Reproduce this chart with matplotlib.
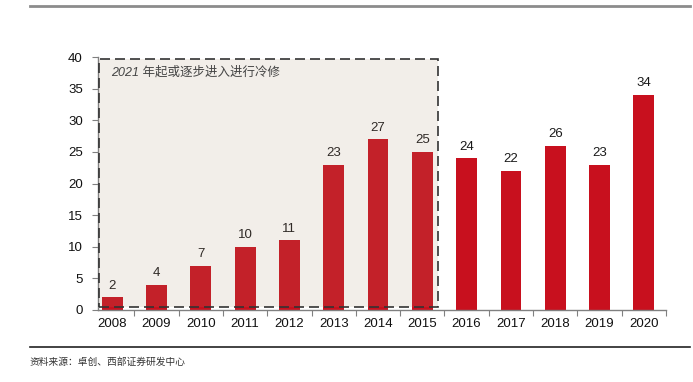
import matplotlib
matplotlib.use("Agg")
import matplotlib.pyplot as plt
from matplotlib.patches import Rectangle
from matplotlib.lines import Line2D

years = ["2008", "2009", "2010", "2011", "2012", "2013", "2014",
         "2015", "2016", "2017", "2018", "2019", "2020"]
values = [2, 4, 7, 10, 11, 23, 27, 25, 24, 22, 26, 23, 34]
yticks = [0, 5, 10, 15, 20, 25, 30, 35, 40]
note = "2021 年起或逐步进入进行冷修"
source = "资料来源：卓创、西部证券研发中心"

plt.rcParams['font.family'] = ['Liberation Sans', 'Noto Sans CJK SC', 'DejaVu Sans']

fig = plt.figure(figsize=(6.93, 3.82), dpi=100)
ax = fig.add_axes([98/693, 1-310/382, (666-98)/693, (310-57)/382])

x = list(range(len(years)))
ax.bar(x, values, width=0.47, color="#C8101E", zorder=2)
for xi, v in zip(x, values):
    ax.annotate(str(v), (xi, v), xytext=(0, 4), textcoords="offset points",
                ha="center", va="bottom", fontsize=9.5, color="#1a1a1a")

ax.set_xlim(-0.32, 12.5)
ax.set_ylim(0, 40)
ax.set_yticks(yticks)
ax.set_yticklabels([str(t) for t in yticks], fontsize=9.5, color="#111111")
ax.set_xticks([i + 0.5 for i in range(len(years))])
ax.set_xticklabels([])
ax.set_xticks(x, minor=True)
ax.set_xticklabels(years, minor=True, fontsize=9.5, color="#111111")
ax.tick_params(axis="x", which="minor", length=0, pad=6)
ax.tick_params(axis="x", which="major", length=4, direction="out", color="#808080")
ax.tick_params(axis="y", length=4, direction="out", color="#808080", pad=7)
for s in ["top", "right"]:
    ax.spines[s].set_visible(False)
for s in ["left", "bottom"]:
    ax.spines[s].set_color("#808080")
    ax.spines[s].set_linewidth(1.0)

# dashed highlight box
box = Rectangle((-0.3, 0.5), 7.65, 39.2, facecolor=(172/255, 138/255, 110/255, 0.145),
                edgecolor="#333333", linestyle=(0, (6, 3)), linewidth=1.2, zorder=3,
                clip_on=False)
ax.add_patch(box)
ax.text(-0.02, 37.6, note, fontsize=9, style="italic", color="#444444",
        ha="left", va="center", zorder=4)

# figure decorations
fig.add_artist(Line2D([30/693, 690/693], [1-6/382, 1-6/382], color="#8C8C8C", linewidth=2))
fig.add_artist(Line2D([30/693, 690/693], [1-347/382, 1-347/382], color="#222222", linewidth=1.2))
fig.text(30/693, 1-362/382, source, fontsize=7, color="#333333", ha="left", va="center")

fig.savefig("out.png", dpi=100)
